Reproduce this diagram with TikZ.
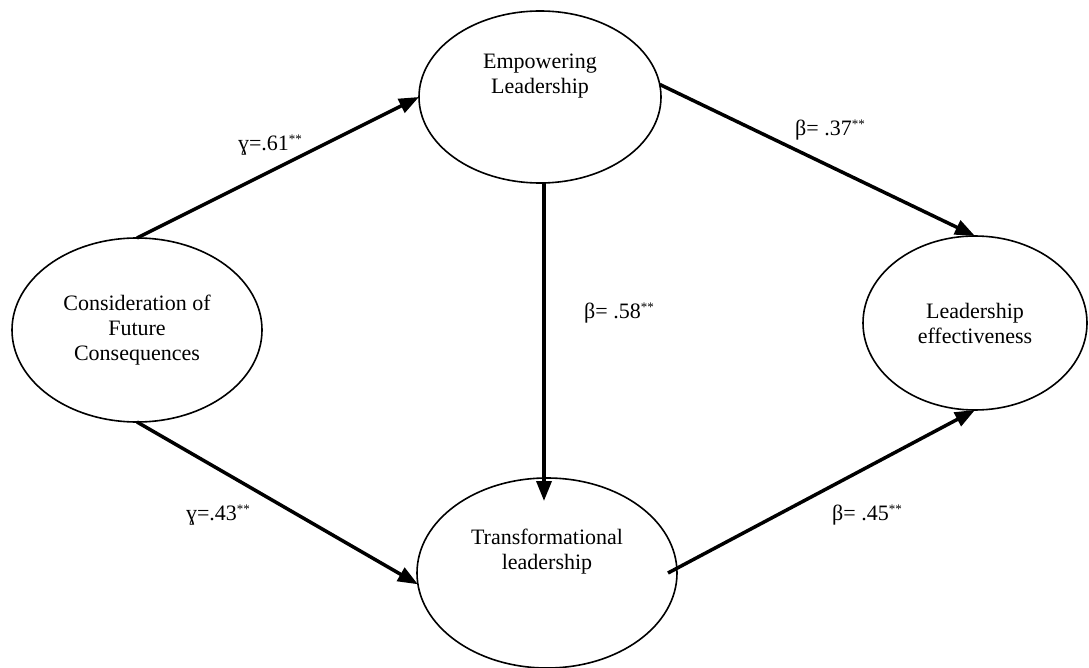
\documentclass[tikz,border=0pt]{standalone}
\usepackage{fontspec}
\setmainfont{Liberation Serif}
\usetikzlibrary{shapes.geometric,arrows.meta,calc}
\newcommand{\sigstars}{\raisebox{0.32em}{\fontsize{13}{13}\selectfont**}}

\begin{document}
\begin{tikzpicture}[x=1pt,y=-1pt]
\tikzset{latent/.style={ellipse,draw,line width=1.6pt,inner sep=0pt,outer sep=0pt,align=center,font=\fontsize{22}{25}\selectfont}};
\tikzset{effect/.style={line width=3.5pt,-{Triangle[length=20pt,width=15pt]}}};
\tikzset{coef/.style={font=\fontsize{22}{25}\selectfont,inner sep=0pt}};

\pgfmathsetmacro{\picwd}{1089};
\pgfmathsetmacro{\picht}{668};
\pgfmathsetmacro{\txtup}{21};

\useasboundingbox (0,0) rectangle (\picwd,\picht);

\node [latent, minimum width=250, minimum height=184] (cfc) at (137,330) {Consideration of\\Future\\Consequences};
\node [latent, minimum width=242, minimum height=172, label={[latent,draw=none,yshift=\txtup]center:Empowering\\Leadership}] (emp) at (540,97) {};
\node [latent, minimum width=260, minimum height=190, label={[latent,draw=none,yshift=\txtup]center:Transformational\\leadership}] (trans) at (547,573) {};
\node [latent, minimum width=224, minimum height=174] (le) at (975,323) {Leadership\\effectiveness};

\coordinate (down-top) at ($(emp.south)+(4,0)$);
\coordinate (down-tip) at ($(down-top |- trans.north)+(0,23)$);

\draw [effect] (cfc.north) -- (emp.west);
\draw [effect] (cfc.south) -- (trans.185);
\draw [effect] (down-top) -- (down-tip);
\draw [effect] (emp.6) -- (le.north);
\draw [effect] ([xshift=-9pt]trans.east) -- (le.south);

\node [coef] (g1) at (270,145) {ɣ=.61\sigstars};
\node [coef] (g2) at (218,515) {ɣ=.43\sigstars};
\node [coef] (b1) at (619,313) {β= .58\sigstars};
\node [coef] (b2) at (830,130) {β= .37\sigstars};
\node [coef] (b3) at (867,515) {β= .45\sigstars};
\end{tikzpicture}
\end{document}
